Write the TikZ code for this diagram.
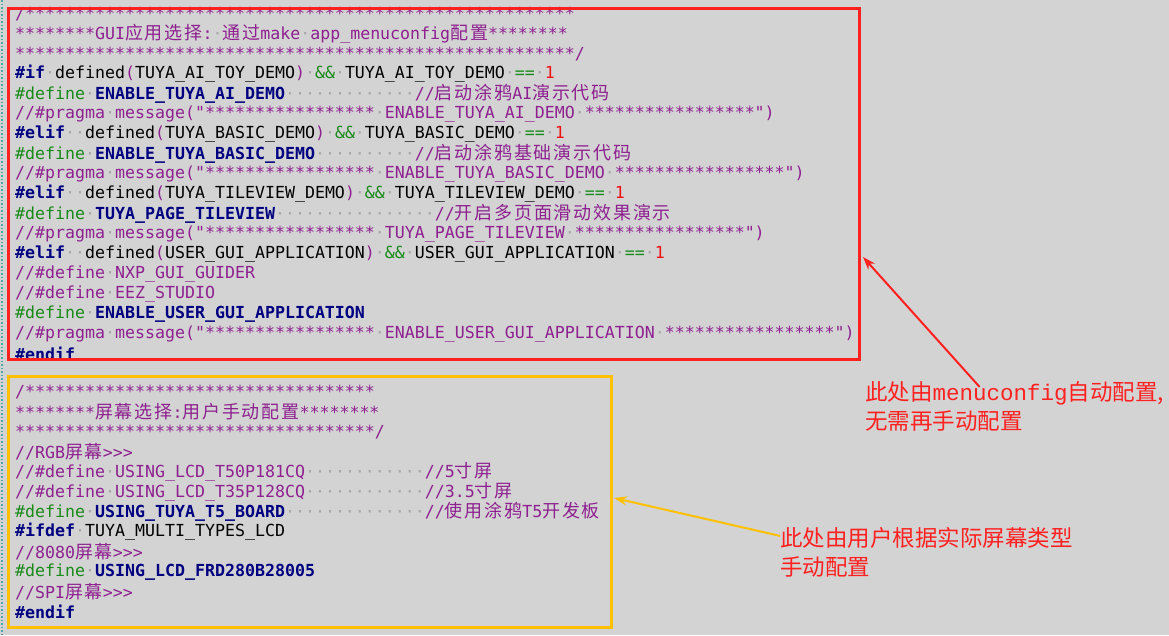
\documentclass[tikz,border=0pt]{standalone}
\usepackage{fontspec}
\usepackage{tikz}
\usetikzlibrary{arrows.meta,positioning}
\setmonofont{DejaVu Sans Mono}
\newfontfamily\cjk[LetterSpace=10]{Noto Sans CJK SC}
\newfontfamily\notecjk{Noto Sans CJK SC}
\newfontfamily\notemono{Liberation Mono}

\definecolor{bggray}{HTML}{D3D3D3}
\definecolor{cmtpurple}{HTML}{8E2090}
\definecolor{kwnavy}{HTML}{000080}
\definecolor{ppgreen}{HTML}{188A18}
\definecolor{numred}{HTML}{F01010}
\definecolor{dotgray}{HTML}{A8A8A8}
\definecolor{boxred}{HTML}{FF2020}
\definecolor{boxyellow}{HTML}{FFC000}

\newcommand\zh[1]{{\fontsize{18pt}{20pt}\cjk #1}}
\newcommand\cmt[1]{{\color{cmtpurple}#1}}
\newcommand\kw[1]{{\color{kwnavy}\bfseries #1}}
\newcommand\pp[1]{{\color{ppgreen}#1}}
\newcommand\op[1]{{\color{ppgreen}#1}}
\newcommand\num[1]{{\color{numred}#1}}
\newcommand\sd{{\color{dotgray}·}}
\newcommand\ds[1]{{\color{dotgray}\foreach\i in {1,...,#1}{·}}}
\newcommand\st[1]{\foreach\i in {1,...,#1}{*}}

\tikzset{
  code/.style={anchor=west, inner sep=0pt, text=black, yshift=-2pt,
    font=\fontsize{16.6pt}{20pt}\ttfamily},
  note/.style={anchor=west, inner sep=0pt, align=left, text=boxred,
    font=\fontsize{22.5pt}{29pt}\notecjk},
  callout/.style={line width=2pt, -{Stealth[length=13pt,width=9pt]}}
}

\begin{document}
\begin{tikzpicture}[x=1pt,y=-1pt]
  \fill[bggray] (0,0) rectangle (1169,635);
  \useasboundingbox (0,0) rectangle (1169,635);
  \draw[teal!70, dotted, line width=1.5pt] (2,0) -- (2,635);

  % GUI application selection
  \node[code] (l1)  at (15,12)  {\cmt{/\st{55}}};
  \node[code] (l2)  at (15,32)  {\cmt{********GUI\zh{应用选择}:\sd\zh{通过}make\sd app\_menuconfig\zh{配置}********}};
  \node[code] (l3)  at (15,52)  {\cmt{\st{56}/}};
  \node[code] (l4)  at (15,72)  {\kw{\#if}\sd defined\cmt{(}TUYA\_AI\_TOY\_DEMO\cmt{)}\sd\op{\&\&}\sd TUYA\_AI\_TOY\_DEMO\sd\op{==}\sd\num{1}};
  \node[code] (l5)  at (15,92)  {\pp{\#define}\sd\kw{ENABLE\_TUYA\_AI\_DEMO}\ds{13}\cmt{//\zh{启动涂鸦}AI\zh{演示代码}}};
  \node[code] (l6)  at (15,112) {\cmt{//\#pragma\sd message("\st{17}\sd ENABLE\_TUYA\_AI\_DEMO\sd\st{17}")}};
  \node[code] (l7)  at (15,132) {\kw{\#elif}\sd\sd defined\cmt{(}TUYA\_BASIC\_DEMO\cmt{)}\sd\op{\&\&}\sd TUYA\_BASIC\_DEMO\sd\op{==}\sd\num{1}};
  \node[code] (l8)  at (15,152) {\pp{\#define}\sd\kw{ENABLE\_TUYA\_BASIC\_DEMO}\ds{10}\cmt{//\zh{启动涂鸦基础演示代码}}};
  \node[code] (l9)  at (15,172) {\cmt{//\#pragma\sd message("\st{17}\sd ENABLE\_TUYA\_BASIC\_DEMO\sd\st{17}")}};
  \node[code] (l10) at (15,192) {\kw{\#elif}\sd\sd defined\cmt{(}TUYA\_TILEVIEW\_DEMO\cmt{)}\sd\op{\&\&}\sd TUYA\_TILEVIEW\_DEMO\sd\op{==}\sd\num{1}};
  \node[code] (l11) at (15,212) {\pp{\#define}\sd\kw{TUYA\_PAGE\_TILEVIEW}\ds{16}\cmt{//\zh{开启多页面滑动效果演示}}};
  \node[code] (l12) at (15,232) {\cmt{//\#pragma\sd message("\st{17}\sd TUYA\_PAGE\_TILEVIEW\sd\st{17}")}};
  \node[code] (l13) at (15,252) {\kw{\#elif}\sd\sd defined\cmt{(}USER\_GUI\_APPLICATION\cmt{)}\sd\op{\&\&}\sd USER\_GUI\_APPLICATION\sd\op{==}\sd\num{1}};
  \node[code] (l14) at (15,272) {\cmt{//\#define\sd NXP\_GUI\_GUIDER}};
  \node[code] (l15) at (15,292) {\cmt{//\#define\sd EEZ\_STUDIO}};
  \node[code] (l16) at (15,312) {\pp{\#define}\sd\kw{ENABLE\_USER\_GUI\_APPLICATION}};
  \node[code] (l17) at (15,332) {\cmt{//\#pragma\sd message("\st{17}\sd ENABLE\_USER\_GUI\_APPLICATION\sd\st{17}")}};
  \node[code] (l18) at (15,352) {\kw{\#endif}};

  % screen selection
  \node[code] (s1)  at (15,390) {\cmt{/\st{35}}};
  \node[code] (s2)  at (15,410) {\cmt{********\zh{屏幕选择}:\zh{用户手动配置}********}};
  \node[code] (s3)  at (15,430) {\cmt{\st{36}/}};
  \node[code] (s4)  at (15,450) {\cmt{//RGB\zh{屏幕}>>>}};
  \node[code] (s5)  at (15,470) {\cmt{//\#define\sd USING\_LCD\_T50P181CQ}\ds{12}\cmt{//5\zh{寸屏}}};
  \node[code] (s6)  at (15,490) {\cmt{//\#define\sd USING\_LCD\_T35P128CQ}\ds{12}\cmt{//3.5\zh{寸屏}}};
  \node[code] (s7)  at (15,510) {\pp{\#define}\sd\kw{USING\_TUYA\_T5\_BOARD}\ds{14}\cmt{//\zh{使用涂鸦}T5\zh{开发板}}};
  \node[code] (s8)  at (15,530) {\kw{\#ifdef}\sd TUYA\_MULTI\_TYPES\_LCD};
  \node[code] (s9)  at (15,550) {\cmt{//8080\zh{屏幕}>>>}};
  \node[code] (s10) at (15,570) {\pp{\#define}\sd\kw{USING\_LCD\_FRD280B28005}};
  \node[code] (s11) at (15,590) {\cmt{//SPI\zh{屏幕}>>>}};
  \node[code] (s12) at (15,610) {\kw{\#endif}};

  % frames
  \draw[boxred, line width=3pt] (8,8) rectangle (859,359);
  \coordinate (redtip) at (863,257);
  \draw[boxyellow, line width=3pt] (8,376) rectangle (611,627);
  \coordinate (yellowtip) at (614,498);

  % notes
  \node[note] (guinote) at (865,406) {此处由{\notemono menuconfig}自动配置,\\无需再手动配置};
  \node[note] (lcdnote) at (780,552) {此处由用户根据实际屏幕类型\\手动配置};
  \draw[callout, boxred] ([xshift=-35pt,yshift=-6pt]guinote.north) -- (redtip);
  \draw[callout, boxyellow] ([yshift=-9pt]lcdnote.north west) -- (yellowtip);
\end{tikzpicture}
\end{document}
